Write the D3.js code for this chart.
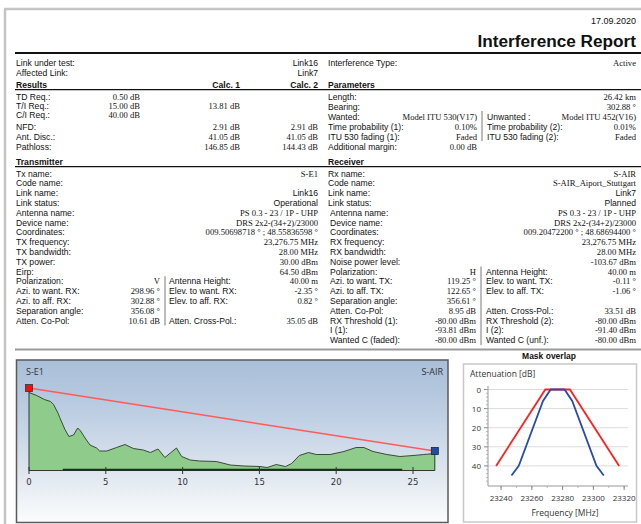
<!DOCTYPE html>
<html><head><meta charset="utf-8">
<script src="https://cdn.jsdelivr.net/npm/d3@7"></script>
<style>body{margin:0;background:#fff;} svg{display:block}</style>
</head><body><svg id="c" width="641" height="524"></svg>
<script>
// ---------- DATA ----------
const reportDate = "17.09.2020";
const reportTitle = "Interference Report";
const linkLabels = ["Link under test:", "Affected Link:"];
const linkValues = ["Link16", "Link7"];
const interferenceType = ["Interference Type:", "Active"];

const resultLabels = ["TD Req.:", "T/I Req.:", "C/I Req.:", "NFD:", "Ant. Disc.:", "Pathloss:"];
const resultRequired = ["0.50 dB", "15.00 dB", "40.00 dB", "", "", ""];
const resultCalc1 = ["", "13.81 dB", "", "2.91 dB", "41.05 dB", "146.85 dB"];
const resultCalc2 = ["", "", "", "2.91 dB", "41.05 dB", "144.43 dB"];

const paramLabels = ["Length:", "Bearing:", "Wanted:", "Time probability (1):", "ITU 530 fading (1):", "Additional margin:"];
const paramValues = ["26.42 km", "302.88 °", "Model ITU 530(V17)", "0.10%", "Faded", "0.00 dB"];
const paramLabels2 = ["", "", "Unwanted :", "Time probability (2):", "ITU 530 fading (2):", ""];
const paramValues2 = ["", "", "Model ITU 452(V16)", "0.01%", "Faded", ""];

const txLabels = ["Tx name:", "Code name:", "Link name:", "Link status:", "Antenna name:", "Device name:", "Coordinates:", "TX frequency:", "TX bandwidth:", "TX power:", "Eirp:"];
const txValues = ["S-E1", "", "Link16", "Operational", "PS 0.3 - 23 / 1P - UHP", "DRS 2x2-(34+2)/23000", "009.50698718 ° ; 48.55836598 °", "23,276.75 MHz", "28.00 MHz", "30.00 dBm", "64.50 dBm"];
const txSansValues = ["Link16", "Operational"];
const txSplitLabels = ["Polarization:", "Azi. to want. RX:", "Azi. to aff. RX:", "Separation angle:", "Atten. Co-Pol:"];
const txSplitValues = ["V", "298.96 °", "302.88 °", "356.08 °", "10.61 dB"];
const txSplitLabels2 = ["Antenna Height:", "Elev. to want. RX:", "Elev. to aff. RX:", "", "Atten. Cross-Pol.:"];
const txSplitValues2 = ["40.00 m", "-2.35 °", "0.82 °", "", "35.05 dB"];

const rxLabels = ["Rx name:", "Code name:", "Link name:", "Link status:", "Antenna name:", "Device name:", "Coordinates:", "RX frequency:", "RX bandwidth:", "Noise power level:"];
const rxValues = ["S-AIR", "S-AIR_Aiport_Stuttgart", "Link7", "Planned", "PS 0.3 - 23 / 1P - UHP", "DRS 2x2-(34+2)/23000", "009.20472200 ° ; 48.68694400 °", "23,276.75 MHz", "28.00 MHz", "-103.67 dBm"];
const rxSansValues = ["Link7", "Planned"];
const rxSplitLabels = ["Polarization:", "Azi. to want. TX:", "Azi. to aff. TX:", "Separation angle:", "Atten. Co-Pol:", "RX Threshold (1):", "I (1):", "Wanted C (faded):"];
const rxSplitValues = ["H", "119.25 °", "122.65 °", "356.61 °", "8.95 dB", "-80.00 dBm", "-93.81 dBm", "-80.00 dBm"];
const rxSplitLabels2 = ["Antenna Height:", "Elev. to want. TX:", "Elev. to aff. TX:", "", "Atten. Cross-Pol.:", "RX Threshold (2):", "I (2):", "Wanted C (unf.):"];
const rxSplitValues2 = ["40.00 m", "-0.11 °", "-1.06 °", "", "33.51 dB", "-80.00 dBm", "-91.40 dBm", "-80.00 dBm"];

// terrain profile (distance km, relative height)
const profileKm = [0, 0.5, 1.0, 1.4, 1.6, 1.9, 2.0, 2.34, 2.6, 2.9, 3.17, 3.36, 3.65, 3.97, 4.4, 4.6, 5.06, 5.7, 6.25, 6.8, 7.44, 7.9, 8.4, 8.85, 9.2, 9.6, 9.94, 10.5, 11.1, 12.2, 13.1, 14.0, 15.04, 15.5, 16.1, 16.7, 17.1, 17.6, 18.2, 18.7, 19.6, 20.5, 21.3, 21.8, 22.4, 23.3, 24.15, 25.0, 25.7, 26.42];
const profileHeight = [78, 75, 71, 69, 66, 57, 53, 41, 34, 35.5, 42.5, 39.5, 32.5, 25.5, 22.5, 19.5, 19.5, 23, 26, 22, 20.5, 18, 21.5, 13, 17.5, 22.5, 14, 10.5, 9.5, 9, 5.5, 4.5, 4, 3, 6, 4, 7, 15, 18, 16, 16, 19, 23, 23, 19, 16, 14, 15, 16, 17];
const pathLengthKm = 26.42;
const txAntennaHeight = 82.5;
const rxAntennaHeight = 19.5;
const clutterKm = [2.2, 24.3];
const profileTicks = [0, 5, 10, 15, 20, 25];
const txSiteName = "S-E1", rxSiteName = "S-AIR";

// mask overlap
const maskTitle = "Mask overlap";
const redMaskFreq = [23236.75, 23268.75, 23284.75, 23316.75];
const redMaskAtt = [40, 0, 0, 40];
const blueMaskFreq = [23246.75, 23251.5, 23267.25, 23272.25, 23281.25, 23286.25, 23302.0, 23306.75];
const blueMaskAtt = [45, 40, 6, 0, 0, 6, 40, 45];
const maskFreqTicks = [23240, 23260, 23280, 23300, 23320];
const maskAttTicks = [0, 10, 20, 30, 40];

// ---------- DRAW ----------
const svg = d3.select("#c");
const SANS = "'Liberation Sans', Arial, sans-serif";
const SERIF = "'Liberation Serif', 'Times New Roman', serif";
const FS = 8.6;

function txt(x, y, s, o = {}) {
  return svg.append("text").attr("x", x).attr("y", y)
    .attr("font-family", o.serif ? SERIF : SANS)
    .attr("font-size", o.size || FS)
    .attr("font-weight", o.bold ? "bold" : null)
    .attr("text-anchor", o.anchor || "start")
    .attr("fill", o.fill || "#111")
    .text(s);
}
function line(x1, y1, x2, y2, c, w) {
  svg.append("line").attr("x1", x1).attr("y1", y1).attr("x2", x2).attr("y2", y2)
    .attr("stroke", c).attr("stroke-width", w);
}

// page frame
line(4, 9, 641, 9, "#c4c4c4", 2.5);
line(5, 9, 5, 524, "#c4c4c4", 2.5);

txt(636, 24, reportDate, {anchor: "end", size: 9});
txt(636, 46.5, reportTitle, {anchor: "end", size: 17.2, bold: true});
line(15, 53, 641, 53, "#111", 1.8);

const B = 3; // baseline offset
linkLabels.forEach((l, i) => {
  txt(16, 63 + i * 9.5 + B, l);
  txt(318, 63 + i * 9.5 + B, linkValues[i], {anchor: "end"});
});
txt(328, 63 + B, interferenceType[0]);
txt(636, 63 + B, interferenceType[1], {anchor: "end", serif: true});

// Results
txt(16, 88, "Results", {bold: true});
txt(240, 88, "Calc. 1", {bold: true, anchor: "end"});
txt(318, 88, "Calc. 2", {bold: true, anchor: "end"});
txt(328, 88, "Parameters", {bold: true});
line(15, 89.6, 641, 89.6, "#111", 1.3);
const resY = [97, 106, 115, 126.5, 136.5, 146.5];
resultLabels.forEach((l, i) => {
  const y = resY[i] + B;
  txt(16, y, l);
  txt(140, y, resultRequired[i], {anchor: "end", serif: true});
  txt(240, y, resultCalc1[i], {anchor: "end", serif: true});
  txt(318, y, resultCalc2[i], {anchor: "end", serif: true});
});
const parY = [97, 106.5, 116.5, 126.5, 136.5, 146.5];
paramLabels.forEach((l, i) => {
  const y = parY[i] + B;
  txt(328, y, l);
  if (i < 2) txt(636, y, paramValues[i], {anchor: "end", serif: true});
  else txt(477, y, paramValues[i], {anchor: "end", serif: true});
  if (paramLabels2[i]) {
    txt(487, y, paramLabels2[i]);
    txt(636, y, paramValues2[i], {anchor: "end", serif: true});
  }
});
line(482, 111, 482, 141, "#555", 0.8);

// Transmitter / Receiver
txt(16, 165, "Transmitter", {bold: true});
txt(328, 165, "Receiver", {bold: true});
line(15, 166.6, 641, 166.6, "#111", 1.3);
const rowY0 = 173.5, rowStep = 9.8;
txLabels.forEach((l, i) => {
  const y = rowY0 + i * rowStep + B;
  txt(16, y, l);
  txt(318, y, txValues[i], {anchor: "end", serif: !txSansValues.includes(txValues[i])});
});
txSplitLabels.forEach((l, i) => {
  const y = rowY0 + (txLabels.length + i) * rowStep + B;
  txt(16, y, l);
  txt(160, y, txSplitValues[i], {anchor: "end", serif: true});
  if (txSplitLabels2[i]) {
    txt(169, y, txSplitLabels2[i]);
    txt(318, y, txSplitValues2[i], {anchor: "end", serif: true});
  }
});
line(165, rowY0 + txLabels.length * rowStep - 5, 165, rowY0 + (txLabels.length + txSplitLabels.length - 1) * rowStep + 5, "#555", 0.8);

rxLabels.forEach((l, i) => {
  const y = rowY0 + i * rowStep + B;
  txt(i < 4 ? 328 : 330, y, l);
  txt(636, y, rxValues[i], {anchor: "end", serif: !rxSansValues.includes(rxValues[i])});
});
rxSplitLabels.forEach((l, i) => {
  const y = rowY0 + (rxLabels.length + i) * rowStep + B;
  txt(330, y, l);
  txt(476, y, rxSplitValues[i], {anchor: "end", serif: true});
  if (rxSplitLabels2[i]) {
    txt(486, y, rxSplitLabels2[i]);
    txt(636, y, rxSplitValues2[i], {anchor: "end", serif: true});
  }
});
line(481, rowY0 + rxLabels.length * rowStep - 5, 481, rowY0 + (rxLabels.length + rxSplitLabels.length - 1) * rowStep + 5, "#555", 0.8);

line(15, 349.5, 320, 349.5, "#9a9a9a", 2);
line(320, 349.5, 641, 349.5, "#9a9a9a", 2);

// ---------- Profile chart ----------
const defs = svg.append("defs");
const g = defs.append("linearGradient").attr("id", "bg").attr("x1", 0).attr("y1", 0).attr("x2", 0).attr("y2", 1);
[[0, "#a9bfd9"], [0.2, "#b4c7de"], [0.45, "#c8d6e7"], [0.7, "#dfe6ef"], [0.85, "#eef2f6"], [1, "#fbfcfd"]]
  .forEach(s => g.append("stop").attr("offset", s[0]).attr("stop-color", s[1]));
svg.append("rect").attr("x", 16.5).attr("y", 360).attr("width", 431.5).attr("height", 162.5)
  .attr("fill", "url(#bg)").attr("stroke", "#5a5a5a").attr("stroke-width", 1.5);

const px = d3.scaleLinear().domain([0, 25]).range([29, 413]);
const py = d3.scaleLinear().domain([0, 100]).range([470.5, 370.5]);
const prof = profileKm.map((k, i) => ({k, h: profileHeight[i]}));
svg.append("path").datum(prof)
  .attr("d", d3.area().x(d => px(d.k)).y0(py(0)).y1(d => py(d.h)))
  .attr("fill", "#8fcb8b");
svg.append("path").datum(prof)
  .attr("d", d3.line().x(d => px(d.k)).y(d => py(d.h)))
  .attr("fill", "none").attr("stroke", "#2d3a2d").attr("stroke-width", 0.9);
line(px(0), py(0), px(0), py(txAntennaHeight), "#2d3a2d", 1);
line(px(pathLengthKm), py(0), px(pathLengthKm), py(rxAntennaHeight), "#2d3a2d", 1);
line(px(0), py(0), px(pathLengthKm), py(0), "#333", 1);
line(px(clutterKm[0]), py(0) - 0.8, px(clutterKm[1]), py(0) - 0.8, "#173217", 2);
profileTicks.forEach(t => {
  line(px(t), py(0) - 3.5, px(t), py(0) + 3.5, "#333", 1);
  svg.append("text").attr("x", px(t)).attr("y", 485).attr("text-anchor", "middle")
    .attr("font-family", "'DejaVu Sans', Verdana, sans-serif").attr("font-size", 8.5).attr("fill", "#333").text(t);
});
line(px(0), py(txAntennaHeight), px(pathLengthKm), py(rxAntennaHeight), "#ff5a5a", 1.4);
svg.append("rect").attr("x", px(0) - 3.5).attr("y", py(txAntennaHeight) - 3.5).attr("width", 7).attr("height", 7)
  .attr("fill", "#ee1111").attr("stroke", "#333").attr("stroke-width", 0.8);
svg.append("rect").attr("x", px(pathLengthKm) - 3.5).attr("y", py(rxAntennaHeight) - 3.5).attr("width", 7).attr("height", 7)
  .attr("fill", "#1d4fa8").attr("stroke", "#222").attr("stroke-width", 0.8);
svg.append("text").attr("x", 26).attr("y", 375).attr("font-family", "'Open Sans', sans-serif").attr("font-size", 9)
  .attr("fill", "#333").text(txSiteName);
svg.append("text").attr("x", 443).attr("y", 375).attr("text-anchor", "end").attr("font-family", "'Open Sans', sans-serif").attr("font-size", 9)
  .attr("fill", "#333").text(rxSiteName);

// ---------- Mask overlap ----------
txt(549, 359, maskTitle, {bold: true, anchor: "middle", size: 8.5});
svg.append("rect").attr("x", 463.5).attr("y", 364).attr("width", 173).attr("height", 158)
  .attr("fill", "#fff").attr("stroke", "#c8c8c8").attr("stroke-width", 1.5);
svg.append("text").attr("x", 470).attr("y", 377).attr("font-family", "'Open Sans', sans-serif").attr("font-size", 8.5)
  .attr("fill", "#333").text("Attenuation [dB]");
const mx = d3.scaleLinear().domain([23231.5, 23322.5]).range([488, 628]);
const my = d3.scaleLinear().domain([0, 50]).range([389.5, 485]);
maskAttTicks.forEach(t => {
  line(488, my(t), 628, my(t), "#dcdcdc", 1);
  line(484, my(t), 488, my(t), "#888", 1);
  svg.append("text").attr("x", 481).attr("y", my(t) + 3).attr("text-anchor", "end")
    .attr("font-family", "'Open Sans', sans-serif").attr("font-size", 8).attr("fill", "#333").text(t);
});
d3.range(0, 50, 2).forEach(t => line(486, my(t), 488, my(t), "#aaa", 0.8));
line(488, 386, 488, 486, "#999", 1);
line(488, 486, 628, 486, "#999", 1);
d3.range(23240, 23321, 10).forEach(t => line(mx(t), 486, mx(t), 488, "#aaa", 0.8));
maskFreqTicks.forEach(t => {
  line(mx(t), 486, mx(t), 490, "#888", 1);
  svg.append("text").attr("x", mx(t)).attr("y", 501).attr("text-anchor", "middle")
    .attr("font-family", "'Open Sans', sans-serif").attr("font-size", 8).attr("fill", "#333").text(t);
});
svg.append("text").attr("x", 565).attr("y", 516).attr("text-anchor", "middle")
  .attr("font-family", "'Open Sans', sans-serif").attr("font-size", 8.5).attr("fill", "#333").text("Frequency [MHz]");
const ml = d3.line().x(d => mx(d[0])).y(d => my(d[1]));
svg.append("path").datum(redMaskFreq.map((f, i) => [f, redMaskAtt[i]])).attr("d", ml)
  .attr("fill", "none").attr("stroke", "#ff2020").attr("stroke-width", 1.8);
svg.append("path").datum(blueMaskFreq.map((f, i) => [f, blueMaskAtt[i]])).attr("d", ml)
  .attr("fill", "none").attr("stroke", "#2a4ca6").attr("stroke-width", 1.8);
</script></body></html>
